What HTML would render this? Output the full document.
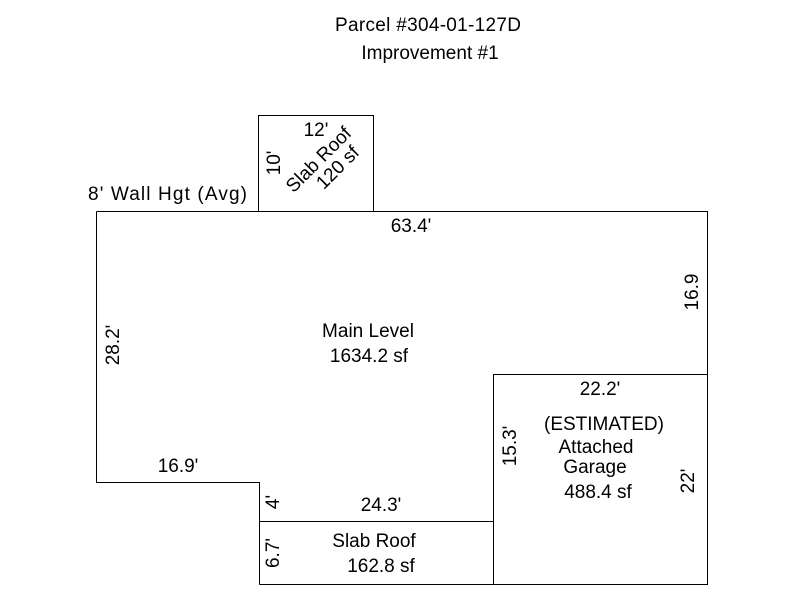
<!DOCTYPE html><html><head><style>body{margin:0;background:#fff}</style></head><body>
<svg width="800" height="600" xmlns="http://www.w3.org/2000/svg" font-family="Liberation Sans, Arial, sans-serif" font-size="19" fill="#000">
<rect width="800" height="600" fill="#fff"/>
<g stroke="#000" stroke-width="1" fill="none">
<rect x="258.5" y="115.5" width="115" height="96"/>
<path d="M96.5 211.5H707.5V374.5M96.5 211.5V482.5H259.5V584.5"/>
<rect x="493.5" y="374.5" width="214" height="210"/>
<path d="M259.5 521.5H493.5M259.5 584.5H493.5"/>
</g>
<text x="428" y="31" text-anchor="middle" textLength="186">Parcel #304-01-127D</text>
<text x="430" y="59" text-anchor="middle">Improvement #1</text>
<text x="316" y="136" text-anchor="middle">12'</text>
<text transform="translate(280,163) rotate(-90)" text-anchor="middle">10'</text>
<text transform="translate(323,164) rotate(-45)" text-anchor="middle">Slab Roof</text>
<text transform="translate(342,172) rotate(-45)" text-anchor="middle">120 sf</text>
<text x="88" y="200" textLength="159">8' Wall Hgt (Avg)</text>
<text x="411" y="232" text-anchor="middle">63.4'</text>
<text transform="translate(698,292) rotate(-90)" text-anchor="middle">16.9</text>
<text transform="translate(119,345) rotate(-90)" text-anchor="middle">28.2'</text>
<text x="368" y="337" text-anchor="middle">Main Level</text>
<text x="369" y="362" text-anchor="middle">1634.2 sf</text>
<text x="600" y="395" text-anchor="middle">22.2'</text>
<text transform="translate(516,446) rotate(-90)" text-anchor="middle">15.3'</text>
<text x="604" y="430" text-anchor="middle">(ESTIMATED)</text>
<text x="596" y="453" text-anchor="middle">Attached</text>
<text x="595" y="473" text-anchor="middle">Garage</text>
<text x="598" y="498" text-anchor="middle">488.4 sf</text>
<text transform="translate(694,481) rotate(-90)" text-anchor="middle">22'</text>
<text x="178" y="472" text-anchor="middle">16.9'</text>
<text transform="translate(279,502) rotate(-90)" text-anchor="middle">4'</text>
<text x="381" y="511" text-anchor="middle">24.3'</text>
<text transform="translate(279,553) rotate(-90)" text-anchor="middle">6.7'</text>
<text x="374" y="547" text-anchor="middle">Slab Roof</text>
<text x="381" y="572" text-anchor="middle">162.8 sf</text>
</svg></body></html>
